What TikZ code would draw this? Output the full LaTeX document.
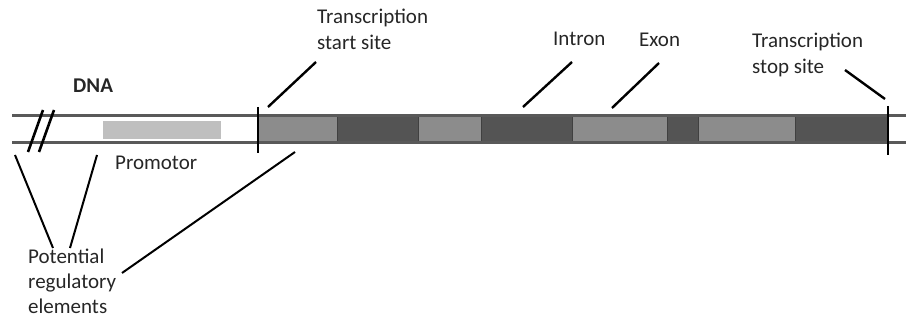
\documentclass[tikz,border=0pt]{standalone}
\usepackage{fontspec}
\setmainfont{Carlito}
\begin{document}
\begin{tikzpicture}[x=1pt,y=-1pt,
  lbl/.style={inner sep=0pt, anchor=base west, align=left, text=black!85,
    font=\fontsize{21}{26}\selectfont},
  leader/.style={line width=2.4pt, black},
  strand/.style={line width=3pt, black!65},
  exon/.style={fill=black!45, draw=black!75, line width=1pt},
  intron/.style={fill=black!67, draw=black!75, line width=1pt},
  siteline/.style={line width=2.6pt, black}]
\useasboundingbox (0,0) rectangle (906,320);

% promoter region
\fill[black!25] (103,121) rectangle (221,139);

% exons and introns of the gene body
\path[exon]   (258,117) rectangle (337,142);
\path[intron] (337,117) rectangle (418,142);
\path[exon]   (418,117) rectangle (481,142);
\path[intron] (481,117) rectangle (572,142);
\path[exon]   (572,117) rectangle (667,142);
\path[intron] (667,117) rectangle (698,142);
\path[exon]   (698,117) rectangle (795,142);
\path[intron] (795,117) rectangle (888,142);

% the two strands
\draw[strand] (12,116) -- (906,116);
\draw[strand] (12,143) -- (906,143);

% break marks
\draw[line width=2.6pt] (28,152) -- (43,110);
\draw[line width=2.6pt] (39,152) -- (54,110);

% start and stop sites
\draw[siteline] (258,107) -- (258,153);
\draw[siteline] (888,106) -- (888,155);

% labels (multi-line labels are placed by the baseline of their last line)
\node[lbl, font=\fontsize{21}{26}\selectfont\bfseries] (dna) at (73,93) {DNA};
\node[lbl] (tss) at (317,50) {Transcription\\start site};
\node[lbl] (intron) at (553,46) {Intron};
\node[lbl] (exonl) at (639,47) {Exon};
\node[lbl] (tts) at (752,74) {Transcription\\stop site};
\node[lbl] (prom) at (115,170) {Promotor};
\node[lbl, font=\fontsize{21}{25}\selectfont] (reg) at (28,314) {Potential\\regulatory\\elements};

% leader end points
\coordinate (tssA) at (316,62);  \coordinate (tssB) at (268,107);
\coordinate (intA) at (572,62);  \coordinate (intB) at (523,107);
\coordinate (exA)  at (659,63);  \coordinate (exB)  at (612,108);
\coordinate (ttsA) at (845,70);  \coordinate (ttsB) at (885,99);
\coordinate (regA) at (53,248);  \coordinate (regB) at (15,155);
\coordinate (regC) at (70,248);  \coordinate (regD) at (97,155);
\coordinate (regE) at (122,273); \coordinate (regF) at (295,152);

\draw[leader] (tssA) -- (tssB);
\draw[leader] (intA) -- (intB);
\draw[leader] (exA) -- (exB);
\draw[leader] (ttsA) -- (ttsB);
\draw[leader, line width=2pt] (regA) -- (regB);
\draw[leader, line width=2pt] (regC) -- (regD);
\draw[leader, line width=2pt] (regE) -- (regF);
\end{tikzpicture}
\end{document}
